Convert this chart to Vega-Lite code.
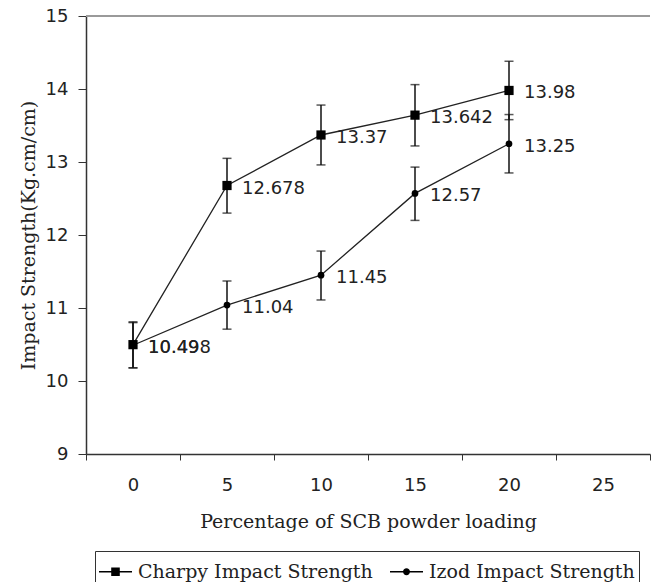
{
  "$schema": "https://vega.github.io/schema/vega-lite/v6.json",
  "width": 564,
  "height": 438,
  "autosize": {"type": "none"},
  "padding": {"left": 86, "top": 16, "right": 3, "bottom": 128},
  "background": "white",
  "config": {"view": {"stroke": null}, "font": "DejaVu Sans"},
  "data": {
    "values": [
      {"x": "0", "series": "Charpy Impact Strength", "value": 10.498, "lo": 10.18, "hi": 10.81},
      {"x": "5", "series": "Charpy Impact Strength", "value": 12.678, "lo": 12.30, "hi": 13.05},
      {"x": "10", "series": "Charpy Impact Strength", "value": 13.37, "lo": 12.96, "hi": 13.78},
      {"x": "15", "series": "Charpy Impact Strength", "value": 13.642, "lo": 13.22, "hi": 14.06},
      {"x": "20", "series": "Charpy Impact Strength", "value": 13.98, "lo": 13.58, "hi": 14.38},
      {"x": "0", "series": "Izod Impact Strength", "value": 10.49, "lo": 10.18, "hi": 10.80},
      {"x": "5", "series": "Izod Impact Strength", "value": 11.04, "lo": 10.71, "hi": 11.37},
      {"x": "10", "series": "Izod Impact Strength", "value": 11.45, "lo": 11.11, "hi": 11.78},
      {"x": "15", "series": "Izod Impact Strength", "value": 12.57, "lo": 12.20, "hi": 12.93},
      {"x": "20", "series": "Izod Impact Strength", "value": 13.25, "lo": 12.85, "hi": 13.65}
    ]
  },
  "layer": [
    {
      "mark": {"type": "line", "color": "#222", "strokeWidth": 1.3},
      "encoding": {
        "x": {
          "field": "x",
          "type": "ordinal",
          "scale": {"domain": ["0", "5", "10", "15", "20", "25"], "paddingInner": 0, "paddingOuter": 0},
          "axis": {
            "title": "Percentage of SCB powder loading",
            "titleFont": "DejaVu Serif",
            "titleFontSize": 19,
            "titleFontWeight": "normal",
            "titleColor": "#222",
            "titlePadding": 18,
            "labelAngle": 0,
            "labelFontSize": 18,
            "labelColor": "#222",
            "labelPadding": 16,
            "tickBand": "extent",
            "tickSize": 6,
            "tickColor": "#333",
            "domainColor": "#333",
            "domainWidth": 1.5,
            "grid": false
          }
        },
        "y": {
          "field": "value",
          "type": "quantitative",
          "scale": {"domain": [9, 15], "nice": false, "zero": false},
          "axis": {
            "title": "Impact Strength(Kg.cm/cm)",
            "titleFont": "DejaVu Serif",
            "titleFontSize": 19,
            "titleFontWeight": "normal",
            "titleColor": "#222",
            "titlePadding": 7,
            "values": [9, 10, 11, 12, 13, 14, 15],
            "format": "d",
            "labelFontSize": 18,
            "labelColor": "#222",
            "labelPadding": 10,
            "tickSize": 8,
            "tickColor": "#333",
            "domainColor": "#333",
            "domainWidth": 1.5,
            "grid": false
          }
        },
        "detail": {"field": "series"}
      }
    },
    {
      "mark": {"type": "rule", "color": "#9a9a9a", "strokeWidth": 1.5},
      "encoding": {"y": {"datum": 15, "type": "quantitative"}}
    },
    {
      "mark": {"type": "rule", "color": "#111", "strokeWidth": 1.5},
      "encoding": {
        "x": {"field": "x", "type": "ordinal"},
        "y": {"field": "lo", "type": "quantitative"},
        "y2": {"field": "hi"}
      }
    },
    {
      "mark": {"type": "tick", "color": "#111", "thickness": 1.5, "size": 9, "orient": "horizontal"},
      "encoding": {
        "x": {"field": "x", "type": "ordinal"},
        "y": {"field": "lo", "type": "quantitative"}
      }
    },
    {
      "mark": {"type": "tick", "color": "#111", "thickness": 1.5, "size": 9, "orient": "horizontal"},
      "encoding": {
        "x": {"field": "x", "type": "ordinal"},
        "y": {"field": "hi", "type": "quantitative"}
      }
    },
    {
      "transform": [{"filter": {"field": "series", "equal": "Charpy Impact Strength"}}],
      "mark": {"type": "point", "filled": true, "color": "#000", "opacity": 1, "size": 85, "shape": "square"},
      "encoding": {
        "x": {"field": "x", "type": "ordinal"},
        "y": {"field": "value", "type": "quantitative"}
      }
    },
    {
      "transform": [{"filter": {"field": "series", "equal": "Izod Impact Strength"}}],
      "mark": {"type": "point", "filled": true, "color": "#000", "opacity": 1, "size": 45, "shape": "circle"},
      "encoding": {
        "x": {"field": "x", "type": "ordinal"},
        "y": {"field": "value", "type": "quantitative"}
      }
    },
    {
      "transform": [{"filter": {"field": "series", "equal": "legend only"}}],
      "mark": {"type": "point", "filled": true, "color": "#000", "size": 1089},
      "encoding": {
        "x": {"field": "x", "type": "ordinal"},
        "y": {"field": "value", "type": "quantitative"},
        "shape": {
          "field": "series",
          "type": "nominal",
          "scale": {
            "domain": ["Charpy Impact Strength", "Izod Impact Strength"],
            "range": [
              "M-1,-0.042H1V0.042H-1ZM-0.26,-0.26H0.26V0.26H-0.26Z",
              "M-1,-0.042H1V0.042H-1ZM0.21,0A0.21,0.21,0,1,1,-0.21,0A0.21,0.21,0,1,1,0.21,0Z"
            ]
          },
          "legend": {
            "title": null,
            "orient": "none",
            "legendX": 9,
            "legendY": 535,
            "direction": "horizontal",
            "strokeColor": "#333",
            "padding": 4,
            "labelFont": "DejaVu Serif",
            "labelFontSize": 19,
            "labelColor": "#222",
            "labelLimit": 400,
            "labelOffset": 6,
            "columnPadding": 17,
            "symbolSize": 1089,
            "symbolFillColor": "#000",
            "symbolStrokeWidth": 0,
            "symbolOpacity": 1
          }
        }
      }
    },
    {
      "mark": {"type": "text", "align": "left", "baseline": "middle", "dx": 15, "dy": 3, "fontSize": 18, "color": "#222"},
      "encoding": {
        "x": {"field": "x", "type": "ordinal"},
        "y": {"field": "value", "type": "quantitative"},
        "text": {"field": "value", "type": "quantitative", "format": ".6~g"}
      }
    }
  ],
  "resolve": {"scale": {"x": "shared", "y": "shared"}}
}
